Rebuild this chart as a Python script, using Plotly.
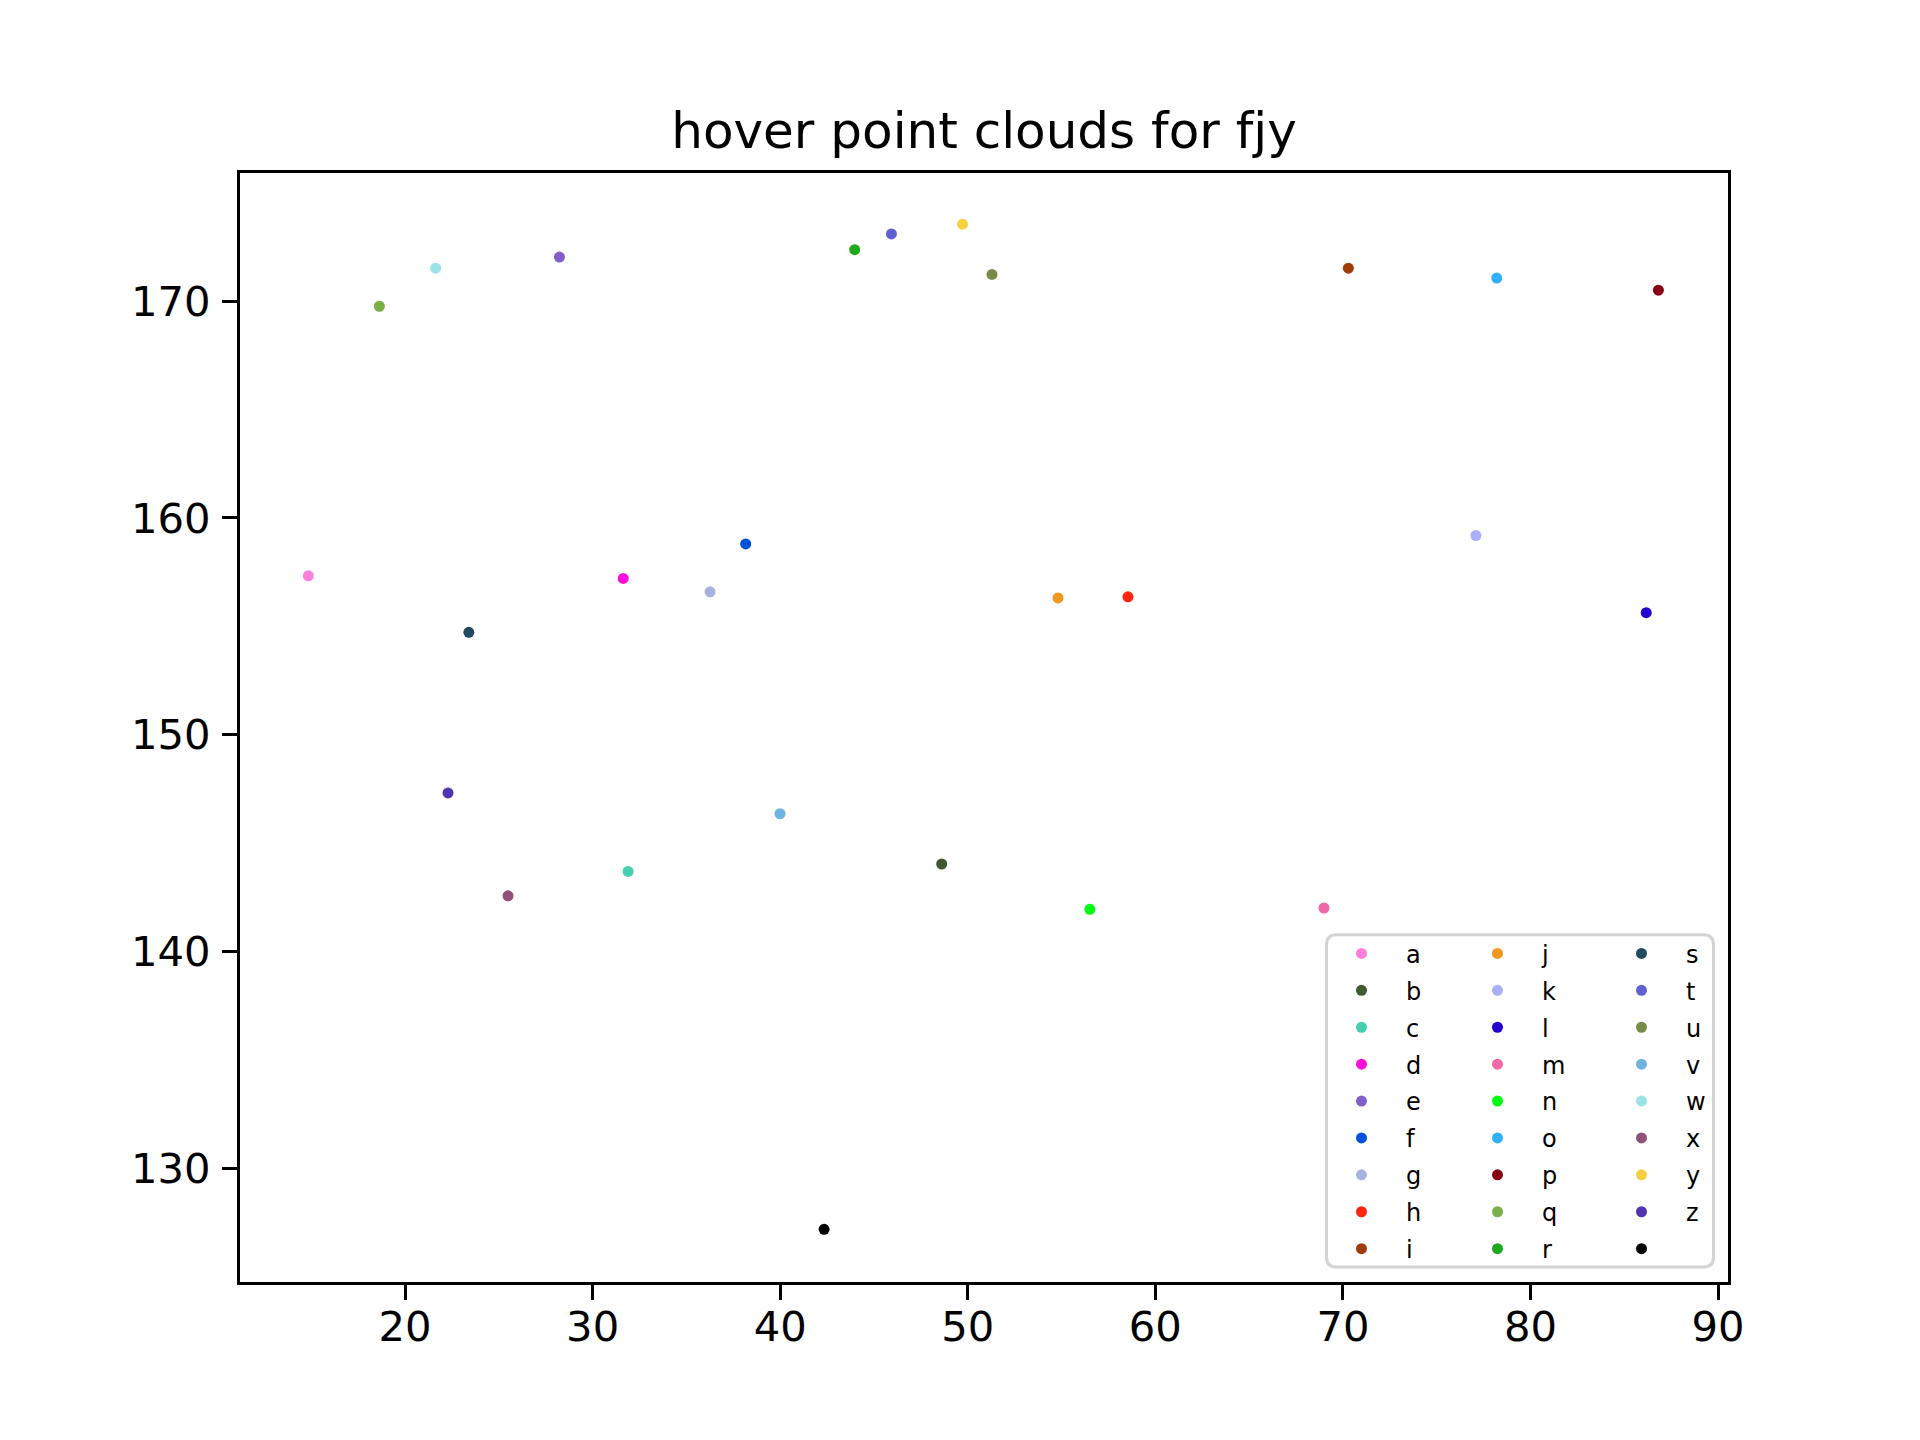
import plotly.graph_objects as go

# ---- data ----
names = ["a","b","c","d","e","f","g","h","i",
         "j","k","l","m","n","o","p","q","r",
         "s","t","u","v","w","x","y","z"," "]
xs = [14.84, 48.61, 31.89, 31.63, 28.23, 38.16, 36.26, 58.54, 70.29,
      54.81, 77.09, 86.17, 68.99, 56.51, 78.20, 86.82, 18.63, 43.97,
      23.40, 45.93, 51.29, 39.99, 21.63, 25.49, 49.72, 22.29, 42.34]
ys = [157.33, 144.03, 143.69, 157.21, 172.04, 158.80, 156.59, 156.36, 171.53,
      156.31, 159.19, 155.63, 142.00, 141.94, 171.07, 170.51, 169.77, 172.38,
      154.72, 173.11, 171.24, 146.35, 171.53, 142.56, 173.56, 147.31, 127.17]
colors = ["#ff80d8","#3f5a30","#45cfae","#ff10d8","#8060c8","#0052d8","#a8b2de","#ff2410","#a03c08",
          "#f09820","#aab0f8","#2200d0","#f068a8","#00ff12","#30b0ff","#880014","#7aae48","#1ea81e",
          "#224a60","#6060d0","#788c4a","#70b2e0","#9ae2e4","#905078","#f6d040","#5034b2","#000000"]
title = "hover point clouds for fjy"
x_range = [11.2, 90.53]
y_range = [124.74, 175.92]
x_ticks = [20, 30, 40, 50, 60, 70, 80, 90]
y_ticks = [130, 140, 150, 160, 170]

# ---- layout geometry (pixels) ----
W, H = 1920, 1440
L, R, T, B = 240, 1728, 172.8, 1281.6
pw, ph = R - L, B - T

def px(v):
    return (v - L) / pw

def py(v):
    return (B - v) / ph

legend_keys = ["legend", "legend2", "legend3"]

fig = go.Figure()
for i, (n, x, y, c) in enumerate(zip(names, xs, ys, colors)):
    fig.add_trace(go.Scatter(
        x=[x], y=[y], mode="markers", name=n,
        marker=dict(color=c, size=11, line=dict(width=0)),
        legend=legend_keys[i // 9], legendgroup=n,
    ))

font = "DejaVu Sans"
leg_common = dict(
    bgcolor="rgba(0,0,0,0)", borderwidth=0,
    font=dict(family=font, size=24, color="black"),
    xanchor="left", yanchor="top", traceorder="grouped",
    tracegroupgap=2.7, itemwidth=79, orientation="v",
)
leg_y = py(931)
dx = -23
fig.update_layout(
    legend=dict(x=px(1340 + dx), y=leg_y, **leg_common),
    legend2=dict(x=px(1476 + dx), y=leg_y, **leg_common),
    legend3=dict(x=px(1620 + dx), y=leg_y, **leg_common),
)

# legend frame (rounded)
x0, x1, y0, y1 = 1326.5, 1713.5, 934.5, 1266.5
r = 10
pts = [
    ("M", x0 + r, y0), ("L", x1 - r, y0), ("Q", x1, y0, x1, y0 + r),
    ("L", x1, y1 - r), ("Q", x1, y1, x1 - r, y1), ("L", x0 + r, y1),
    ("Q", x0, y1, x0, y1 - r), ("L", x0, y0 + r), ("Q", x0, y0, x0 + r, y0),
]
path = ""
for p in pts:
    cmd = p[0]
    coords = p[1:]
    s = []
    for k in range(0, len(coords), 2):
        s.append(f"{px(coords[k]):.5f},{py(coords[k+1]):.5f}")
    path += cmd + " " + " ".join(s) + " "
path += "Z"
fig.add_shape(type="path", path=path, xref="paper", yref="paper",
              line=dict(color="#d4d4d4", width=3), fillcolor="rgba(255,255,255,0.8)",
              layer="above")

axis_common = dict(
    showgrid=False, zeroline=False, showline=True, mirror=True,
    linecolor="black", linewidth=3.3, ticks="outside", ticklen=15,
    tickwidth=3.3, tickcolor="black",
    tickfont=dict(family=font, size=41.7, color="black"),
)
fig.update_xaxes(range=x_range, tickvals=x_ticks, ticklabelstandoff=-9, **axis_common)
fig.update_yaxes(range=y_range, tickvals=y_ticks, ticklabelstandoff=3, **axis_common)

fig.update_layout(
    width=W, height=H,
    margin=dict(l=L, r=W - R, t=T, b=H - B, pad=0),
    paper_bgcolor="white", plot_bgcolor="white",
    title=dict(text=title, x=(L + R) / 2 / W, xanchor="center",
               y=1 - 130 / H, yanchor="middle", yref="container",
               font=dict(family=font, size=50, color="black")),
    showlegend=True,
)

fig.write_html("out.html", config={"displayModeBar": False},
               post_script="document.body.style.margin='0px';")
